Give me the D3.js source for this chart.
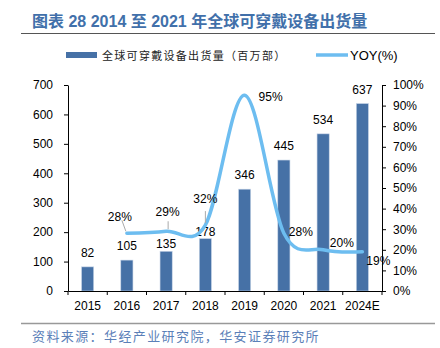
<!DOCTYPE html>
<html lang="zh">
<head>
  <meta charset="UTF-8">
  <title>全球可穿戴设备出货量</title>
  <script src="https://d3js.org/d3.v7.min.js"></script>
  <style>
    body { margin: 0; background: #fff; }
    svg { display: block; }
    .num { font-family: "Liberation Sans", Arial, sans-serif; font-size: 12px; fill: #000; }
    .axis text { font-family: "Liberation Sans", Arial, sans-serif; font-size: 12px; fill: #000; }
    .axis path, .axis line { stroke: #000; }
  </style>
</head>
<body>
  <svg width="440" height="348"></svg>
  <script>
    // shipments per year (millions of units) and year-on-year growth
    const years = ["2015", "2016", "2017", "2018", "2019", "2020", "2021", "2024E"];
    const shipments = [82, 105, 135, 178, 346, 445, 534, 637];
    const yoyYears = ["2016", "2017", "2018", "2019", "2020", "2021", "2024E"];
    const yoy = [28, 29, 32, 95, 28, 20, 19];
    const leftTicks = [0, 100, 200, 300, 400, 500, 600, 700];
    const rightTicks = [0, 10, 20, 30, 40, 50, 60, 70, 80, 90, 100];

    const barColor = "#4671a6";
    const lineColor = "#6dbdf0";

    const svg = d3.select("svg");
    const plot = { left: 68, right: 382, top: 85, bottom: 291 };

    const x = d3.scaleBand().domain(years)
      .range([plot.left, plot.right])
      .paddingInner(0.69).paddingOuter(0.345);
    const yL = d3.scaleLinear().domain([0, 700]).range([plot.bottom, plot.top]);
    const yR = d3.scaleLinear().domain([0, 100]).range([plot.bottom, plot.top]);

    // title and rules
    svg.append("text")
      .attr("x", 32).attr("y", 21)
      .attr("dominant-baseline", "central")
      .style("font-family", "'Liberation Sans', 'Noto Sans CJK SC', sans-serif")
      .style("font-size", "16px").style("font-weight", "bold")
      .style("fill", "#4170aa")
      .text("图表 28 2014 至 2021 年全球可穿戴设备出货量");
    svg.append("line").attr("x1", 21).attr("x2", 435).attr("y1", 33.5).attr("y2", 33.5)
      .attr("stroke", "#555").attr("stroke-width", 1);
    svg.append("line").attr("x1", 21).attr("x2", 435).attr("y1", 323.5).attr("y2", 323.5)
      .attr("stroke", "#999").attr("stroke-width", 1.5);
    svg.append("text")
      .attr("x", 32).attr("y", 335)
      .attr("dominant-baseline", "central")
      .style("font-family", "'Noto Sans CJK SC', sans-serif")
      .style("font-size", "13px").style("letter-spacing", "1.4px")
      .style("fill", "#5b80b8")
      .text("资料来源：华经产业研究院，华安证券研究所");

    // legend
    const legend = svg.append("g");
    legend.append("rect").attr("x", 66).attr("y", 52).attr("width", 31).attr("height", 6)
      .attr("fill", barColor);
    legend.append("text").attr("x", 102).attr("y", 55)
      .attr("dominant-baseline", "central")
      .style("font-family", "'Noto Sans CJK SC', sans-serif")
      .style("font-size", "11px").style("letter-spacing", "1.3px").style("fill", "#222")
      .text("全球可穿戴设备出货量（百万部）");
    legend.append("line").attr("x1", 316).attr("x2", 348).attr("y1", 55).attr("y2", 55)
      .attr("stroke", lineColor).attr("stroke-width", 3.5);
    legend.append("text").attr("x", 350).attr("y", 55)
      .attr("dominant-baseline", "central")
      .attr("class", "num").style("font-size", "13px")
      .text("YOY(%)");

    // bars
    svg.append("g").selectAll("rect")
      .data(years)
      .join("rect")
      .attr("x", (d) => x(d))
      .attr("y", (d, i) => yL(shipments[i]))
      .attr("width", x.bandwidth())
      .attr("height", (d, i) => yL(0) - yL(shipments[i]))
      .attr("fill", barColor)
      .attr("stroke", "#c9d6e8").attr("stroke-width", 0.6);

    // value labels above bars; two are pulled closer to keep clear of the line
    const barLabelGap = { "2017": 7.5, "2018": 7 };
    svg.append("g").selectAll("text")
      .data(years)
      .join("text")
      .attr("class", "num")
      .attr("text-anchor", "middle")
      .attr("x", (d) => x(d) + x.bandwidth() / 2)
      .attr("y", (d, i) => yL(shipments[i]) - (barLabelGap[d] || 14))
      .attr("dy", "0.35em")
      .text((d, i) => shipments[i]);

    // axes
    svg.append("g").attr("class", "axis")
      .attr("transform", `translate(${plot.left},0)`)
      .call(d3.axisLeft(yL).tickValues(leftTicks).tickSize(4).tickSizeOuter(0).tickPadding(11));
    svg.append("g").attr("class", "axis")
      .attr("transform", `translate(${plot.right},0)`)
      .call(d3.axisRight(yR).tickValues(rightTicks).tickSize(4).tickSizeOuter(0).tickPadding(7)
        .tickFormat((d) => d + "%"));
    const xAxis = svg.append("g").attr("class", "axis")
      .attr("transform", `translate(0,${plot.bottom})`)
      .call(d3.axisBottom(x).tickSize(0).tickSizeOuter(0).tickPadding(10));
    // category boundary ticks
    xAxis.selectAll(".sep")
      .data(d3.range(years.length + 1))
      .join("line")
      .attr("class", "sep")
      .attr("x1", (i) => plot.left + i * x.step())
      .attr("x2", (i) => plot.left + i * x.step())
      .attr("y1", 0).attr("y2", 4);

    // yoy line
    const pts = yoyYears.map((d, i) => [x(d) + x.bandwidth() / 2, yR(yoy[i])]);
    svg.append("path")
      .attr("d", d3.line().curve(d3.curveCardinal.tension(0))(pts))
      .attr("fill", "none")
      .attr("stroke", lineColor)
      .attr("stroke-width", 3.5)
      .attr("stroke-linecap", "round");

    // percentage labels, offsets relative to each point
    const labelNudge = [
      { dx: -7, dy: -17, leader: [[-5, -13], [-1, -2]] },
      { dx: 1.5, dy: -19, leader: [[2, -10], [2, -2]] },
      { dx: 0, dy: -26.5, leader: [[0, -14], [0, -2]] },
      { dx: 26, dy: 1.5 },
      { dx: 17, dy: -1.5 },
      { dx: 18.7, dy: -7 },
      { dx: 16, dy: 9 }
    ];
    pts.forEach((p, i) => {
      const n = labelNudge[i];
      if (n.leader) {
        svg.append("line")
          .attr("x1", p[0] + n.leader[0][0]).attr("y1", p[1] + n.leader[0][1])
          .attr("x2", p[0] + n.leader[1][0]).attr("y2", p[1] + n.leader[1][1])
          .attr("stroke", "#aaa").attr("stroke-width", 1);
      }
      svg.append("text")
        .attr("class", "num")
        .attr("text-anchor", "middle")
        .attr("x", p[0] + n.dx)
        .attr("y", p[1] + n.dy)
        .attr("dy", "0.35em")
        .text(yoy[i] + "%");
    });
  </script>
</body>
</html>
